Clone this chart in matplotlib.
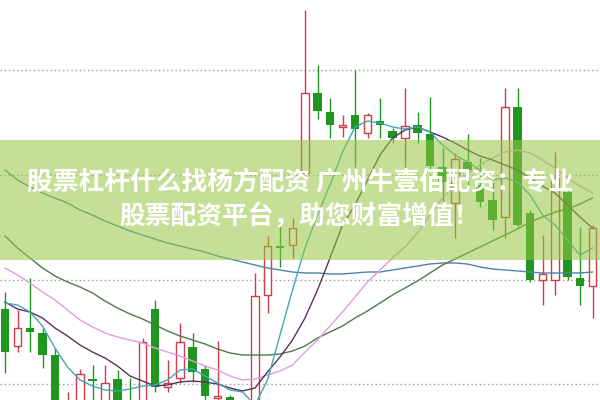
import numpy as np
import matplotlib
matplotlib.use("Agg")
import matplotlib.pyplot as plt
from matplotlib.patches import Rectangle

# Candle data (price units), one entry per trading day
opens = [10.91, 10.54, 10.72, 10.67, 10.45, 9.75, 9.85, 10.21, 9.90, 10.21,
         9.98, 9.90, 10.91, 10.13, 10.22, 10.53, 10.31, 10.02, 10.03, 9.90,
         9.90, 11.05, 11.54, 11.55, 12.27, 13.07, 12.88, 12.73, 12.85, 12.67,
         12.79, 12.69, 12.62, 12.75, 12.66, 12.33, 11.97, 12.38, 12.15, 12.00,
         11.83, 12.93, 11.87, 11.20, 11.20, 12.08, 11.22, 11.14]
closes = [10.48, 10.72, 10.68, 10.45, 9.90, 9.95, 10.26, 10.19, 10.17, 9.90,
          9.90, 10.58, 10.13, 10.17, 10.58, 10.28, 10.04, 10.04, 9.90, 9.82,
          11.04, 11.54, 11.52, 11.72, 13.07, 12.89, 12.75, 12.75, 12.71, 12.85,
          12.75, 12.62, 12.74, 12.67, 12.34, 12.18, 12.41, 12.30, 11.98, 11.80,
          12.93, 11.75, 11.20, 11.26, 12.22, 11.23, 11.14, 11.72]
highs = [11.08, 10.90, 11.22, 10.72, 10.52, 10.08, 10.31, 10.35, 10.35, 10.30,
         10.22, 10.62, 11.00, 10.40, 10.77, 10.67, 10.35, 10.59, 10.05, 9.95,
         11.27, 11.64, 11.77, 11.82, 13.90, 13.35, 13.02, 12.85, 13.30, 12.87,
         13.02, 12.72, 13.12, 12.88, 13.03, 12.52, 12.47, 12.66, 12.42, 12.18,
         13.12, 13.12, 11.90, 11.65, 12.48, 12.12, 11.73, 11.75]
lows = [10.27, 10.48, 10.48, 10.32, 9.85, 9.70, 9.80, 9.95, 9.85, 9.85,
        9.80, 9.85, 10.08, 10.08, 10.17, 10.18, 9.95, 9.90, 9.85, 9.70,
        9.85, 10.87, 11.33, 11.42, 12.25, 12.81, 12.62, 12.63, 12.33, 12.62,
        12.62, 12.57, 12.33, 12.57, 12.30, 11.97, 11.62, 12.10, 11.93, 11.70,
        11.62, 11.73, 11.18, 10.95, 11.05, 11.20, 10.95, 10.82]

# Moving average lines
ma5 = [10.97, 10.95, 10.88, 10.74, 10.52, 10.33, 10.20, 10.14, 10.10, 10.09,
       10.11, 10.14, 10.15, 10.20, 10.30, 10.31, 10.24, 10.17, 10.10, 10.08,
       9.95, 10.20, 10.65, 11.10, 11.52, 11.85, 12.15, 12.48, 12.73, 12.79,
       12.77, 12.73, 12.71, 12.73, 12.68, 12.55, 12.45, 12.38, 12.30, 12.20,
       12.22, 12.18, 12.05, 11.85, 11.75, 11.60, 11.45, 11.52]
ma10 = [10.98, 10.91, 10.88, 10.82, 10.72, 10.64, 10.55, 10.48, 10.42, 10.34,
        10.24, 10.19, 10.14, 10.15, 10.18, 10.19, 10.18, 10.16, 10.12, 10.09,
        10.12, 10.28, 10.43, 10.60, 10.82, 11.10, 11.42, 11.75, 11.95, 12.20,
        12.45, 12.62, 12.70, 12.73, 12.68, 12.63, 12.57, 12.50, 12.44, 12.40,
        12.35, 12.30, 12.22, 12.14, 12.07, 11.95, 11.83, 11.72]
ma20 = [11.32, 11.25, 11.17, 11.08, 11.00, 10.90, 10.80, 10.73, 10.67, 10.63,
        10.60, 10.57, 10.52, 10.48, 10.44, 10.39, 10.34, 10.30, 10.24, 10.20,
        10.21, 10.25, 10.29, 10.35, 10.48, 10.60, 10.74, 10.88, 11.03, 11.18,
        11.30, 11.42, 11.53, 11.67, 11.85, 12.02, 12.15, 12.26, 12.35, 12.42,
        12.48, 12.50, 12.47, 12.40, 12.32, 12.22, 12.14, 12.07]
ma30 = [11.64, 11.52, 11.42, 11.32, 11.24, 11.18, 11.13, 11.07, 10.99, 10.92,
        10.86, 10.81, 10.75, 10.69, 10.64, 10.60, 10.56, 10.51, 10.47, 10.45,
        10.45, 10.45, 10.46, 10.49, 10.54, 10.62, 10.68, 10.74, 10.82, 10.89,
        10.97, 11.05, 11.12, 11.19, 11.27, 11.35, 11.41, 11.47, 11.53, 11.59,
        11.65, 11.71, 11.78, 11.83, 11.88, 11.91, 11.96, 12.02]
ma60 = [12.30, 12.20, 12.13, 12.07, 12.02, 11.97, 11.90, 11.85, 11.79, 11.74,
        11.69, 11.65, 11.61, 11.57, 11.54, 11.51, 11.48, 11.44, 11.41, 11.38,
        11.35, 11.32, 11.30, 11.28, 11.27, 11.27, 11.26, 11.26, 11.27, 11.28,
        11.28, 11.30, 11.32, 11.34, 11.36, 11.37, 11.37, 11.36, 11.33, 11.31,
        11.30, 11.29, 11.28, 11.27, 11.27, 11.27, 11.27, 11.28]

grid_levels = [10.16, 11.20, 12.25, 13.30]

line1 = "股票杠杆什么找杨方配资 广州牛壹佰配资：专业"
line2 = "股票配资平台，助您财富增值！"

plt.rcParams['font.family'] = ['Noto Sans CJK SC', 'DejaVu Sans']

fig = plt.figure(figsize=(6, 4), dpi=100)
ax = fig.add_axes([0, 0, 1, 1])

x = np.arange(len(opens))
o = np.array(opens)
c = np.array(closes)
up = c >= o

# dotted grid
for lvl in grid_levels:
    ax.axhline(lvl, color='#9c9c9c', lw=1, ls=(0, (1, 2)), zorder=0)

red = '#d23c46'
green = '#1f961f'

# wicks
ax.vlines(x[up], np.array(lows)[up], np.array(highs)[up], color=red, lw=1, zorder=2)
ax.vlines(x[~up], np.array(lows)[~up], np.array(highs)[~up], color=green, lw=1, zorder=2)

# bodies
body_lo = np.minimum(o, c)
body_h = np.maximum(np.abs(c - o), 0.02)
ax.bar(x[up], body_h[up], bottom=body_lo[up], width=0.62,
       facecolor='white', edgecolor=red, lw=1, zorder=3)
ax.bar(x[~up], body_h[~up], bottom=body_lo[~up], width=0.66,
       color=green, lw=0, zorder=3)

# moving averages
ax.plot(x, ma60, color='#4a86a8', lw=1, zorder=4)
ax.plot(x, ma30, color='#4c7a4c', lw=1, zorder=4)
ax.plot(x, ma20, color='#e49be4', lw=1, zorder=4)
ax.plot(x, ma10, color='#5e2f5e', lw=1, zorder=4)
ax.plot(x, ma5, color='#3fa9b8', lw=1, zorder=4)

ax.set_xlim(-0.4, 47.6)
ax.set_ylim(10.0, 14.0)
ax.axis('off')

# translucent banner with caption
fig.patches.append(Rectangle((0, 0.35), 1, 0.30, transform=fig.transFigure,
                             facecolor=(150/255, 200/255, 64/255), alpha=0.55,
                             edgecolor='none', zorder=5))
fig.text(0.5, 0.5425, line1, color='white', fontsize=18.5, fontweight='bold',
         ha='center', va='center', zorder=6)
fig.text(0.5, 0.4575, line2, color='white', fontsize=18.5, fontweight='bold',
         ha='center', va='center', zorder=6)

fig.savefig('out.png', dpi=100)
